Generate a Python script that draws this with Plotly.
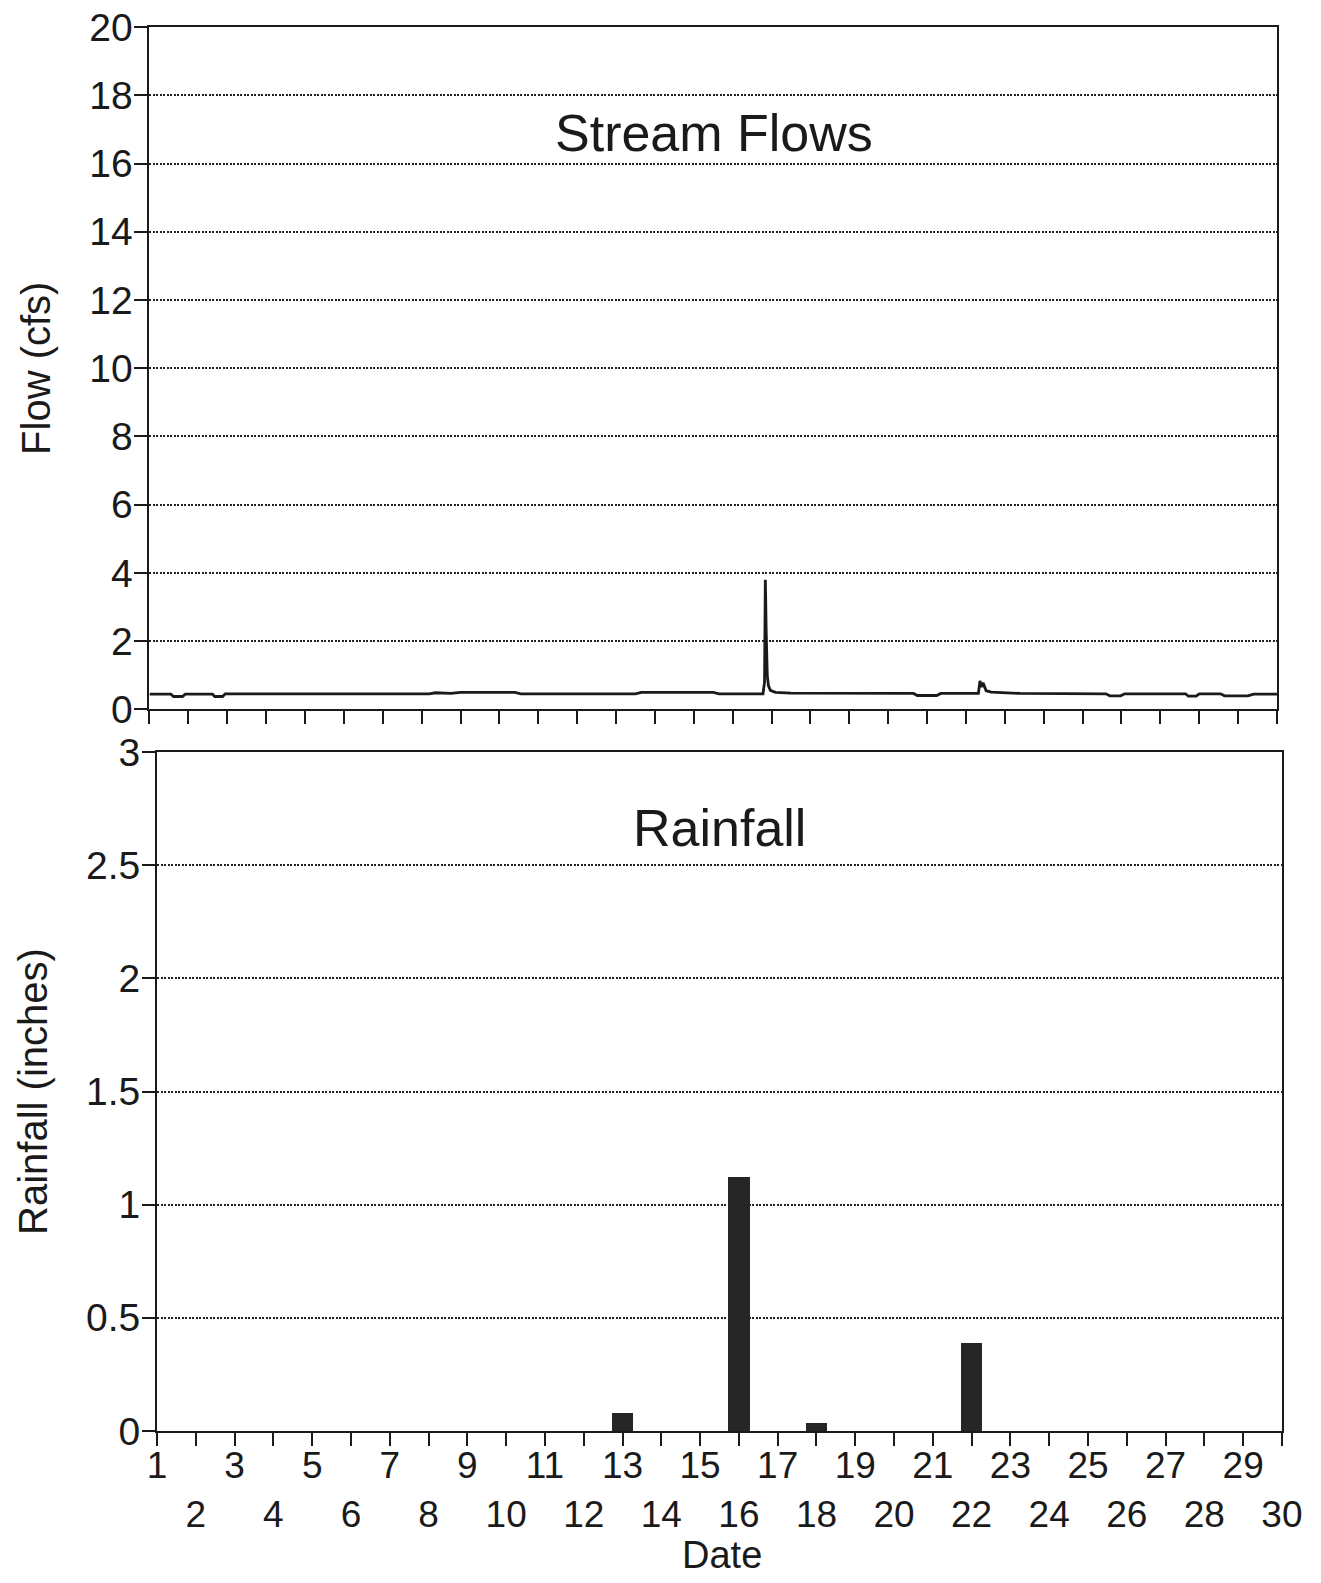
import plotly.graph_objects as go

# ---- data ----
flow_day = [1.00, 1.55, 1.62, 1.85, 1.92, 2.62, 2.68, 2.88, 2.95, 8.2, 8.35, 8.6, 8.75, 9.0,
            10.4, 10.55, 13.5, 13.65, 15.5, 15.65, 16.78, 16.82, 16.84, 16.845, 16.85, 16.86,
            16.87, 16.89, 16.92, 16.97, 17.1, 17.5, 20.65, 20.75, 21.25, 21.35, 22.32, 22.36,
            22.40, 22.44, 22.52, 22.65, 23.4, 25.6, 25.7, 25.98, 26.08, 27.65, 27.72, 27.92,
            28.0, 28.55, 28.65, 29.25, 29.4, 30.0]
flow_cfs = [0.45, 0.45, 0.38, 0.38, 0.45, 0.45, 0.38, 0.38, 0.46, 0.46, 0.49, 0.49, 0.47, 0.50,
            0.50, 0.46, 0.46, 0.50, 0.50, 0.46, 0.46, 0.80, 3.80, 3.30, 3.20, 2.40,
            1.60, 1.00, 0.70, 0.56, 0.50, 0.48, 0.47, 0.41, 0.41, 0.47, 0.47, 0.84,
            0.66, 0.78, 0.55, 0.51, 0.47, 0.46, 0.40, 0.40, 0.46, 0.46, 0.39, 0.39,
            0.46, 0.46, 0.40, 0.40, 0.45, 0.45]

rain_day = list(range(1, 31))
rain_in = [0, 0, 0, 0, 0, 0, 0, 0, 0, 0, 0, 0, 0.08, 0, 0, 1.12, 0, 0.035, 0, 0,
           0, 0.39, 0, 0, 0, 0, 0, 0, 0, 0]

flow_ticks = [0, 2, 4, 6, 8, 10, 12, 14, 16, 18, 20]
rain_ticks = [0, 0.5, 1, 1.5, 2, 2.5, 3]
rain_tick_text = ["0", "0.5", "1", "1.5", "2", "2.5", "3"]
date_ticks = list(range(1, 31))
date_text = [str(d) if d % 2 == 1 else " <br>" + str(d) for d in date_ticks]

FONT = "Liberation Sans, Arial, Helvetica, sans-serif"
INK = "#1a1a1a"
GRID_DASH = "2px,1.5px"

fig = go.Figure()
fig.add_trace(go.Scatter(x=flow_day, y=flow_cfs, mode="lines",
                         line=dict(color=INK, width=2.8), xaxis="x", yaxis="y",
                         showlegend=False))
fig.add_trace(go.Bar(x=rain_day, y=rain_in, width=0.55, xaxis="x2", yaxis="y2",
                     marker=dict(color="#262626", line=dict(width=0)),
                     showlegend=False))


def axis_common(size):
    return dict(showline=True, linecolor=INK, linewidth=2, mirror=True,
                ticks="outside", tickcolor=INK, tickwidth=1.8, ticklen=13,
                tickfont=dict(family=FONT, size=size, color=INK), zeroline=False,
                automargin=False, ticklabeloverflow="allow")


fig.update_layout(
    width=1305, height=1567,
    margin=dict(l=0, r=0, t=19, b=144, autoexpand=False),
    paper_bgcolor="white", plot_bgcolor="white",
    font=dict(family=FONT, color=INK),
    xaxis=dict(domain=[0.1084, 0.9724], range=[1, 30], anchor="y",
               tickvals=date_ticks, showticklabels=False, showgrid=False,
               **axis_common(37)),
    yaxis=dict(domain=[0.5139, 1.0], range=[0, 20], anchor="x",
               tickvals=flow_ticks, showgrid=True, gridcolor="#222", gridwidth=1.6,
               griddash=GRID_DASH, ticklabelstandoff=-6,
               title=dict(text="Flow (cfs)", font=dict(family=FONT, size=40, color=INK),
                          standoff=26),
               **axis_common(39)),
    xaxis2=dict(domain=[0.1142, 0.9762], range=[1, 30], anchor="y2",
                tickvals=date_ticks, ticktext=date_text, tickangle=0, showgrid=False,
                ticklabelstandoff=-12,
                **axis_common(37)),
    yaxis2=dict(domain=[0.0, 0.4836], range=[0, 3], anchor="x2",
                tickvals=rain_ticks, ticktext=rain_tick_text, showgrid=True,
                gridcolor="#222", gridwidth=1.6, griddash=GRID_DASH, ticklabelstandoff=-6,
                title=dict(text="Rainfall (inches)", font=dict(family=FONT, size=40, color=INK),
                           standoff=26),
                **axis_common(39)),
    annotations=[
        dict(text="Stream Flows", x=15.52, y=16.9, xref="x", yref="y",
             xanchor="center", yanchor="middle",
             showarrow=False, font=dict(family=FONT, size=52, color=INK)),
        dict(text="Rainfall", x=15.5, y=2.663, xref="x2", yref="y2",
             xanchor="center", yanchor="middle",
             showarrow=False, font=dict(family=FONT, size=52, color=INK)),
        dict(text="Date", x=0.5471, y=-0.0883, xref="paper", yref="paper",
             xanchor="center", yanchor="middle",
             showarrow=False, font=dict(family=FONT, size=38, color=INK)),
    ],
    bargap=0,
)

fig.write_html("out.html")
